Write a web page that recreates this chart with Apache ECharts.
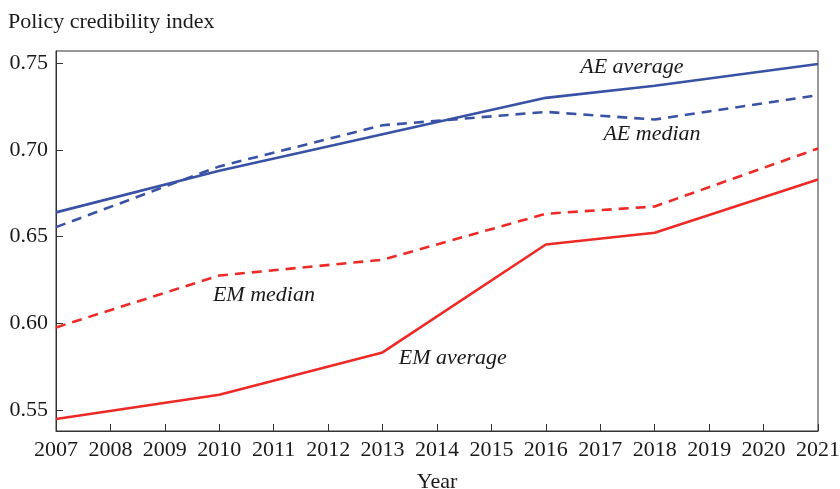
<!DOCTYPE html>
<html><head><meta charset="utf-8">
<script src="https://cdn.jsdelivr.net/npm/echarts@6/dist/echarts.min.js"></script>
<style>html,body{margin:0;padding:0;background:#fff}#c{width:840px;height:489px}</style>
</head><body><div id="c"></div>
<script>
const years = [2007, 2010, 2013, 2016, 2018, 2021];
const aeAverage = [0.664, 0.688, 0.709, 0.730, 0.737, 0.7495];
const aeMedian = [0.6555, 0.6905, 0.7142, 0.7219, 0.7175, 0.7315];
const emMedian = [0.5977, 0.6276, 0.6367, 0.6632, 0.6674, 0.7008];
const emAverage = [0.5449, 0.5589, 0.5833, 0.6455, 0.6523, 0.6829];
const yTicks = [0.55, 0.60, 0.65, 0.70, 0.75];
const annotations = [
  {text: 'AE average', x: 2017.58, y: 0.7477},
  {text: 'AE median', x: 2017.95, y: 0.709},
  {text: 'EM median', x: 2010.82, y: 0.616},
  {text: 'EM average', x: 2014.29, y: 0.580}
];
const BLUE = '#3a52a6', RED = '#ee2a26';
const FONT = '"Liberation Serif", "DejaVu Serif", serif';
const pair = arr => years.map((y, i) => [y, arr[i]]);
const chart = echarts.init(document.getElementById('c'));
chart.setOption({
  animation: false,
  grid: {left: 56, right: 22, top: 51, bottom: 58, show: true, borderColor: '#333', borderWidth: 1,
    containLabel: false, outerBoundsMode: 'none'},
  title: {text: 'Policy credibility index', left: 3, top: 6,
    textStyle: {fontFamily: FONT, fontSize: 22, fontWeight: 'normal', color: '#1a1a1a'}},
  xAxis: {type: 'value', min: 2007, max: 2021, interval: 1,
    name: 'Year', nameLocation: 'middle', nameGap: 40,
    nameTextStyle: {fontFamily: FONT, fontSize: 22, color: '#1a1a1a'},
    axisLine: {lineStyle: {color: '#333', width: 1}},
    axisTick: {inside: true, length: 7, lineStyle: {color: '#333'}},
    axisLabel: {fontFamily: FONT, fontSize: 22, color: '#1a1a1a', margin: 8, formatter: v => String(v)},
    splitLine: {show: false}},
  yAxis: {type: 'value', min: 0.538, max: 0.757,
    axisLine: {show: true, lineStyle: {color: '#333', width: 1}},
    axisTick: {show: true, inside: true, length: 7, lineStyle: {color: '#333'}, customValues: yTicks},
    axisLabel: {fontFamily: FONT, fontSize: 22, color: '#1a1a1a', margin: 8,
      customValues: yTicks, formatter: v => v.toFixed(2)},
    splitLine: {show: false}},
  series: [
    {type: 'line', data: pair(aeAverage), symbol: 'none', lineStyle: {color: BLUE, width: 2.6}},
    {type: 'line', data: pair(aeMedian), symbol: 'none', lineStyle: {color: BLUE, width: 2.6, type: [10, 7]}},
    {type: 'line', data: pair(emMedian), symbol: 'none', lineStyle: {color: RED, width: 2.6, type: [10, 7]}},
    {type: 'line', data: pair(emAverage), symbol: 'none', lineStyle: {color: RED, width: 2.6}},
    {type: 'scatter', symbolSize: 0, silent: true, itemStyle: {opacity: 1},
      data: annotations.map(a => ({value: [a.x, a.y], name: a.text})),
      label: {show: true, position: 'inside', formatter: p => p.name, opacity: 1,
        fontFamily: FONT, fontStyle: 'italic', fontSize: 22, color: '#1a1a1a'}}
  ]
});
</script></body></html>
